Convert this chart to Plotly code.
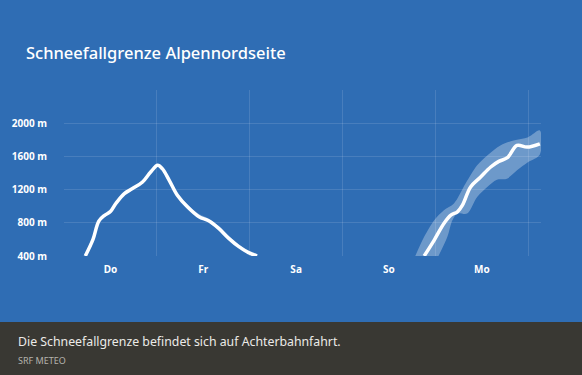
import plotly.graph_objects as go

# ---- data (hours since Thursday 00:00, snowfall limit in m) ----
day_labels = ["Do", "Fr", "Sa", "So", "Mo"]
day_centers = [12, 36, 60, 84, 108]
day_bounds = [0, 24, 48, 72, 96, 120]

y_ticks = [400, 800, 1200, 1600, 2000, 2400]
y_ticktext = ["400 m", "800 m", "1200 m", "1600 m", "2000 m", ""]

h1 = [5.5, 7.5, 9.0, 10.5, 12.0, 13.4, 15.6, 17.7, 20.3, 22.4, 24.2, 25.4, 27.2,
      29.3, 31.9, 34.9, 37.4, 40.0, 42.6, 45.2, 47.7, 49.9]
v1 = [400, 600, 820, 890, 935, 1032, 1152, 1212, 1292, 1412, 1492, 1452, 1312,
      1132, 992, 872, 824, 732, 612, 512, 440, 400]
v1_hi = [400, 608, 833, 903, 950, 1045, 1165, 1225, 1305, 1425, 1505, 1470, 1340,
         1165, 1025, 905, 850, 760, 640, 540, 465, 420]

h2 = [93.1, 95.7, 98.2, 100.0, 101.7, 103.0, 105.1, 107.7, 110.3, 112.4, 114.6,
      117.1, 119.7, 123.0]
v2 = [400, 592, 792, 892, 932, 1012, 1232, 1352, 1472, 1540, 1584, 1732, 1712, 1752]

h2_up = [90.8, 93.1, 95.7, 98.2, 100.8, 103.8, 106.8, 109.4, 112.8, 116.2, 120.0, 123.0]
v2_up = [400, 632, 832, 952, 1032, 1272, 1492, 1612, 1732, 1792, 1832, 1912]
h2_lo = [96.8, 99.1, 100.4, 101.7, 104.2, 106.8, 109.4, 111.9, 114.5, 117.1, 120.0, 123.0]
v2_lo = [400, 632, 832, 912, 912, 1112, 1232, 1320, 1332, 1432, 1532, 1624]

BG = "#2f6db4"
FONT = "Noto Sans"

fig = go.Figure()

# faint band around first segment
fig.add_trace(go.Scatter(
    x=h1 + h1[::-1], y=v1_hi + v1[::-1], fill="toself",
    fillcolor="rgba(255,255,255,0.25)", line=dict(width=0, shape="spline", smoothing=1),
    mode="lines", hoverinfo="skip", showlegend=False))

# uncertainty band Monday
fig.add_trace(go.Scatter(
    x=h2_up + h2_lo[::-1], y=v2_up + v2_lo[::-1], fill="toself",
    fillcolor="rgba(255,255,255,0.3)", line=dict(width=0, shape="spline", smoothing=0.9),
    mode="lines", hoverinfo="skip", showlegend=False))

for hx, vy in [(h1, v1), (h2, v2)]:
    fig.add_trace(go.Scatter(
        x=hx, y=vy, mode="lines",
        line=dict(color="white", width=3.5, shape="spline", smoothing=1),
        hoverinfo="skip", showlegend=False))

fig.update_layout(
    width=582, height=375,
    margin=dict(l=61, r=41, t=90, b=119),
    paper_bgcolor=BG, plot_bgcolor=BG,
    font=dict(family=FONT, color="white"),
    xaxis=dict(
        range=[0, 123.3], tickmode="array", tickvals=day_centers, ticktext=day_labels,
        showgrid=False, zeroline=False, showline=False,
        ticks="outside", ticklen=4, tickcolor="rgba(0,0,0,0)",
        tickfont=dict(family=FONT, size=10, color="white", weight="bold"),
        minor=dict(tickmode="array", tickvals=day_bounds, showgrid=True,
                   gridcolor="rgba(255,255,255,0.12)", gridwidth=1, ticks=""),
        fixedrange=True),
    yaxis=dict(
        range=[400, 2400], tickmode="array", tickvals=y_ticks, ticktext=y_ticktext,
        showgrid=True, gridcolor="rgba(255,255,255,0.12)", gridwidth=1,
        zeroline=False, showline=False,
        ticks="outside", ticklen=14, tickcolor="rgba(0,0,0,0)",
        tickfont=dict(family=FONT, size=10, color="white", weight="bold"),
        fixedrange=True),
    shapes=[dict(type="rect", xref="paper", yref="paper",
                 x0=-0.5, x1=1.5, y0=-1.0, y1=(256 - 322) / 166,
                 fillcolor="#393833", line=dict(width=0), layer="above")],
    annotations=[
        dict(text="Schneefallgrenze Alpennordseite", xref="paper", yref="paper",
             x=(21 - 61) / 480, y=(256 - 52) / 166, xanchor="left", yanchor="middle",
             showarrow=False, font=dict(family=FONT, size=16.5, color="white", weight=500)),
        dict(text="Die Schneefallgrenze befindet sich auf Achterbahnfahrt.",
             xref="paper", yref="paper",
             x=(13 - 61) / 480, y=(256 - 341) / 166, xanchor="left", yanchor="middle",
             showarrow=False, font=dict(family=FONT, size=12.3, color="#ecebe8")),
        dict(text="SRF METEO", xref="paper", yref="paper",
             x=(13 - 61) / 480, y=(256 - 360) / 166, xanchor="left", yanchor="middle",
             showarrow=False, font=dict(family=FONT, size=9, color="#b5b3ad")),
    ],
)

fig.write_html("out.html", config={"displayModeBar": False},
               post_script="document.body.style.margin='0';")
